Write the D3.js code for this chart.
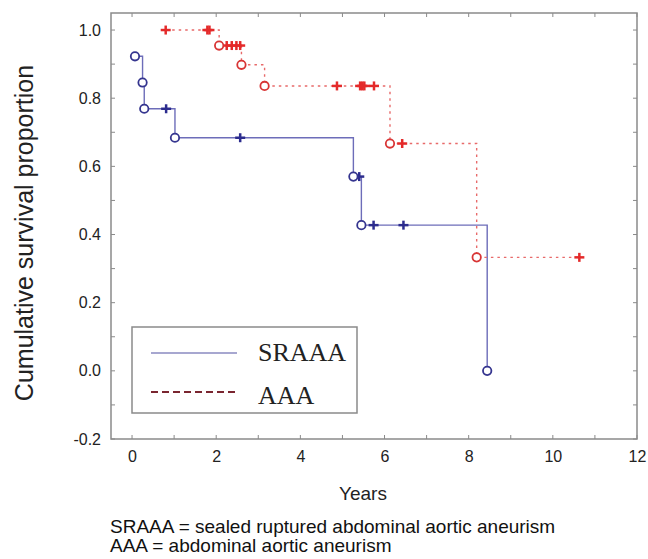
<!DOCTYPE html>
<html><head><meta charset="utf-8">
<script src="https://cdn.jsdelivr.net/npm/d3@7"></script>
<style>body{margin:0;background:#fff}svg{display:block}</style>
</head><body>
<script>
// ---- data ----
const xTicks = [0, 2, 4, 6, 8, 10, 12];
const yTicks = [-0.2, 0.0, 0.2, 0.4, 0.6, 0.8, 1.0];
// SRAAA (solid): step curve, completed (circles) and censored (+)
const sraaaCurve = [[0.07,0.923],[0.25,0.846],[0.29,0.769],[1.02,0.684],[5.26,0.570],[5.45,0.4275],[8.44,0.0]];
const sraaaEnd = 8.44;
const sraaaEvents = [[0.07,0.923],[0.25,0.846],[0.29,0.769],[1.02,0.684],[5.26,0.570],[5.45,0.4275],[8.44,0.0]];
const sraaaCensored = [[0.81,0.769],[2.57,0.684],[5.40,0.570],[5.74,0.4275],[6.45,0.4275]];
// AAA (dotted)
const aaaCurve = [[0.80,1.0],[2.07,0.9545],[2.60,0.898],[3.15,0.836],[6.13,0.667],[8.19,0.333]];
const aaaEnd = 10.63;
const aaaEvents = [[2.07,0.9545],[2.60,0.898],[3.15,0.836],[6.13,0.667],[8.19,0.333]];
const aaaCensored = [[0.80,1.0],[1.79,1.0],[1.84,1.0],[2.25,0.9545],[2.37,0.9545],[2.48,0.9545],[2.57,0.9545],
  [4.87,0.836],[5.42,0.836],[5.47,0.836],[5.52,0.836],[5.75,0.836],[6.42,0.667],[10.63,0.333]];
const legendLabels = ["SRAAA", "AAA"];
const footnotes = ["SRAAA = sealed ruptured abdominal aortic aneurism", "AAA = abdominal aortic aneurism"];

// ---- drawing ----
const W = 648, H = 559;
const svg = d3.select("body").append("svg").attr("width", W).attr("height", H);
const x = d3.scaleLinear().domain([-0.5, 12]).range([111, 637]);
const y = d3.scaleLinear().domain([-0.2, 1.05]).range([439, 13]);
const frameColor = "#8a8a8a";
const sans = "'Liberation Sans', Arial, sans-serif";

// inward ticks on all sides
const tickLen = 4;
const xt = d3.range(0, 13, 1), yt = d3.range(-2, 11, 1).map(d => d / 10);
const tg = svg.append("g").attr("stroke", frameColor).attr("stroke-width", 1);
xt.forEach(t => {
  tg.append("line").attr("x1", x(t)).attr("x2", x(t)).attr("y1", y.range()[0]).attr("y2", y.range()[0] - tickLen);
  tg.append("line").attr("x1", x(t)).attr("x2", x(t)).attr("y1", y.range()[1]).attr("y2", y.range()[1] + tickLen);
});
yt.forEach(t => {
  tg.append("line").attr("y1", y(t)).attr("y2", y(t)).attr("x1", x.range()[0]).attr("x2", x.range()[0] + tickLen);
  tg.append("line").attr("y1", y(t)).attr("y2", y(t)).attr("x1", x.range()[1]).attr("x2", x.range()[1] - tickLen);
});
svg.append("rect").attr("x", x.range()[0]).attr("y", y.range()[1])
  .attr("width", x.range()[1] - x.range()[0]).attr("height", y.range()[0] - y.range()[1])
  .attr("fill", "none").attr("stroke", frameColor).attr("stroke-width", 1.5);

// tick labels via axis generators (domain/tick lines hidden)
const xAxis = svg.append("g").attr("transform", `translate(0,${y.range()[0]})`)
  .call(d3.axisBottom(x).tickValues(xTicks).tickSize(0).tickPadding(12).tickFormat(d => String(d)));
const yAxis = svg.append("g").attr("transform", `translate(${x.range()[0]},0)`)
  .call(d3.axisLeft(y).tickValues(yTicks).tickSize(0).tickPadding(10).tickFormat(d => d.toFixed(1)));
[xAxis, yAxis].forEach(a => {
  a.select(".domain").remove();
  a.selectAll("text").attr("font-family", sans).attr("font-size", 16).attr("fill", "#222");
});

// step lines
const stepLine = d3.line().x(d => x(d[0])).y(d => y(d[1])).curve(d3.curveStepAfter);
svg.append("path").datum(sraaaCurve.concat([[sraaaEnd, sraaaCurve[sraaaCurve.length-1][1]]]))
  .attr("d", stepLine).attr("fill", "none").attr("stroke", "#6d6db9").attr("stroke-width", 1.4);
svg.append("path").datum(aaaCurve.concat([[aaaEnd, aaaCurve[aaaCurve.length-1][1]]]))
  .attr("d", stepLine).attr("fill", "none").attr("stroke", "#e86a6a").attr("stroke-width", 1.4)
  .attr("stroke-dasharray", "2.5,4");

function crosses(data, color) {
  const g = svg.append("g").attr("stroke", color).attr("stroke-width", 2.5);
  data.forEach(d => {
    const cx = x(d[0]), cy = y(d[1]);
    g.append("line").attr("x1", cx - 5).attr("x2", cx + 5).attr("y1", cy).attr("y2", cy);
    g.append("line").attr("x1", cx).attr("x2", cx).attr("y1", cy - 4.5).attr("y2", cy + 4.5);
  });
}
function circles(data, color) {
  svg.append("g").selectAll("circle").data(data).join("circle")
    .attr("cx", d => x(d[0])).attr("cy", d => y(d[1])).attr("r", 4.2)
    .attr("fill", "#fff").attr("stroke", color).attr("stroke-width", 1.8);
}
crosses(sraaaCensored, "#2c2c8e");
crosses(aaaCensored, "#e42a2a");
circles(sraaaEvents, "#35358f");
circles(aaaEvents, "#d83535");

// legend
const lg = svg.append("g");
lg.append("rect").attr("x", 132).attr("y", 327).attr("width", 225).attr("height", 86)
  .attr("fill", "#fff").attr("stroke", frameColor).attr("stroke-width", 1.5);
lg.append("line").attr("x1", 151).attr("x2", 237).attr("y1", 353).attr("y2", 353)
  .attr("stroke", "#8a8ac0").attr("stroke-width", 1.5);
lg.append("line").attr("x1", 151).attr("x2", 237).attr("y1", 392).attr("y2", 392)
  .attr("stroke", "#7a2530").attr("stroke-width", 2).attr("stroke-dasharray", "7,4");
legendLabels.forEach((t, i) => {
  lg.append("text").attr("x", 258).attr("y", [361, 404][i]).text(t)
    .attr("font-family", "'Liberation Serif', 'Times New Roman', serif").attr("font-size", 26).attr("fill", "#222");
});

// axis titles
svg.append("text").attr("x", 363).attr("y", 500).attr("text-anchor", "middle")
  .attr("font-family", sans).attr("font-size", 19).attr("fill", "#222").text("Years");
svg.append("text").attr("transform", "translate(33,233) rotate(-90)").attr("text-anchor", "middle")
  .attr("font-family", sans).attr("font-size", 25).attr("fill", "#222").text("Cumulative survival proportion");

// footnotes
footnotes.forEach((t, i) => {
  svg.append("text").attr("x", 110).attr("y", 533 + i * 19).text(t)
    .attr("font-family", sans).attr("font-size", 19).attr("fill", "#111");
});
</script>
</body></html>
